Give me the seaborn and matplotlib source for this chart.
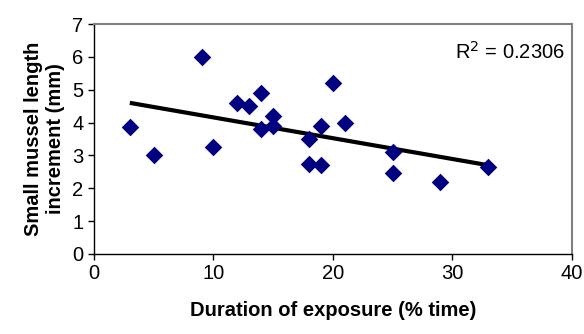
import numpy as np
import pandas as pd
import seaborn as sns
import matplotlib.pyplot as plt

# exposure (% time) vs small mussel length increment (mm)
exposure = [3, 5, 9, 10, 12, 13, 14, 14, 15, 15, 18, 18, 19, 19, 20, 21, 25, 25, 29, 33]
increment = [3.85, 3.0, 6.0, 3.25, 4.6, 4.5, 4.9, 3.8, 4.2, 3.9, 3.5, 2.75, 3.9, 2.7,
             5.2, 4.0, 3.1, 2.45, 2.2, 2.65]

data = pd.DataFrame({'exposure': exposure, 'increment': increment})

sns.set_style('white')
plt.rcParams['font.family'] = ['Liberation Sans', 'DejaVu Sans']
plt.rcParams['text.color'] = 'black'
plt.rcParams['axes.labelcolor'] = 'black'
plt.rcParams['xtick.color'] = 'black'
plt.rcParams['ytick.color'] = 'black'

fig = plt.figure(figsize=(5.84, 3.34), dpi=100)
ax = fig.add_axes([0.161, 0.240, 0.818, 0.688])

# trend line (linear fit)
sns.regplot(x='exposure', y='increment', data=data, ci=None, scatter=False,
            line_kws={'color': 'black', 'lw': 3, 'solid_capstyle': 'butt'}, ax=ax)
sns.scatterplot(x='exposure', y='increment', data=data, marker='D', s=80,
                color='#000080', edgecolor='#000080', linewidth=0, ax=ax, zorder=3)

ax.text(0.985, 0.88, 'R$^2$ = 0.2306', transform=ax.transAxes, ha='right', va='center',
        fontsize=14.5)

ax.set_xlim(0, 40)
ax.set_ylim(0, 7)
ax.set_xticks(range(0, 41, 10))
ax.set_yticks(range(0, 8))
ax.tick_params(axis='both', labelsize=14.5, direction='out', length=4, width=1,
               left=True, bottom=True, color='black')
ax.set_xlabel('Duration of exposure (% time)', fontsize=14.5, fontweight='bold', labelpad=13)
ax.set_ylabel('Small mussel length\nincrement (mm)', fontsize=14.5, fontweight='bold', labelpad=5)

for side in ['left', 'bottom']:
    ax.spines[side].set_color('black')
    ax.spines[side].set_linewidth(1)
for side in ['top', 'right']:
    ax.spines[side].set_color('#808080')
    ax.spines[side].set_linewidth(1.5)

fig.savefig('out.png', dpi=100)
